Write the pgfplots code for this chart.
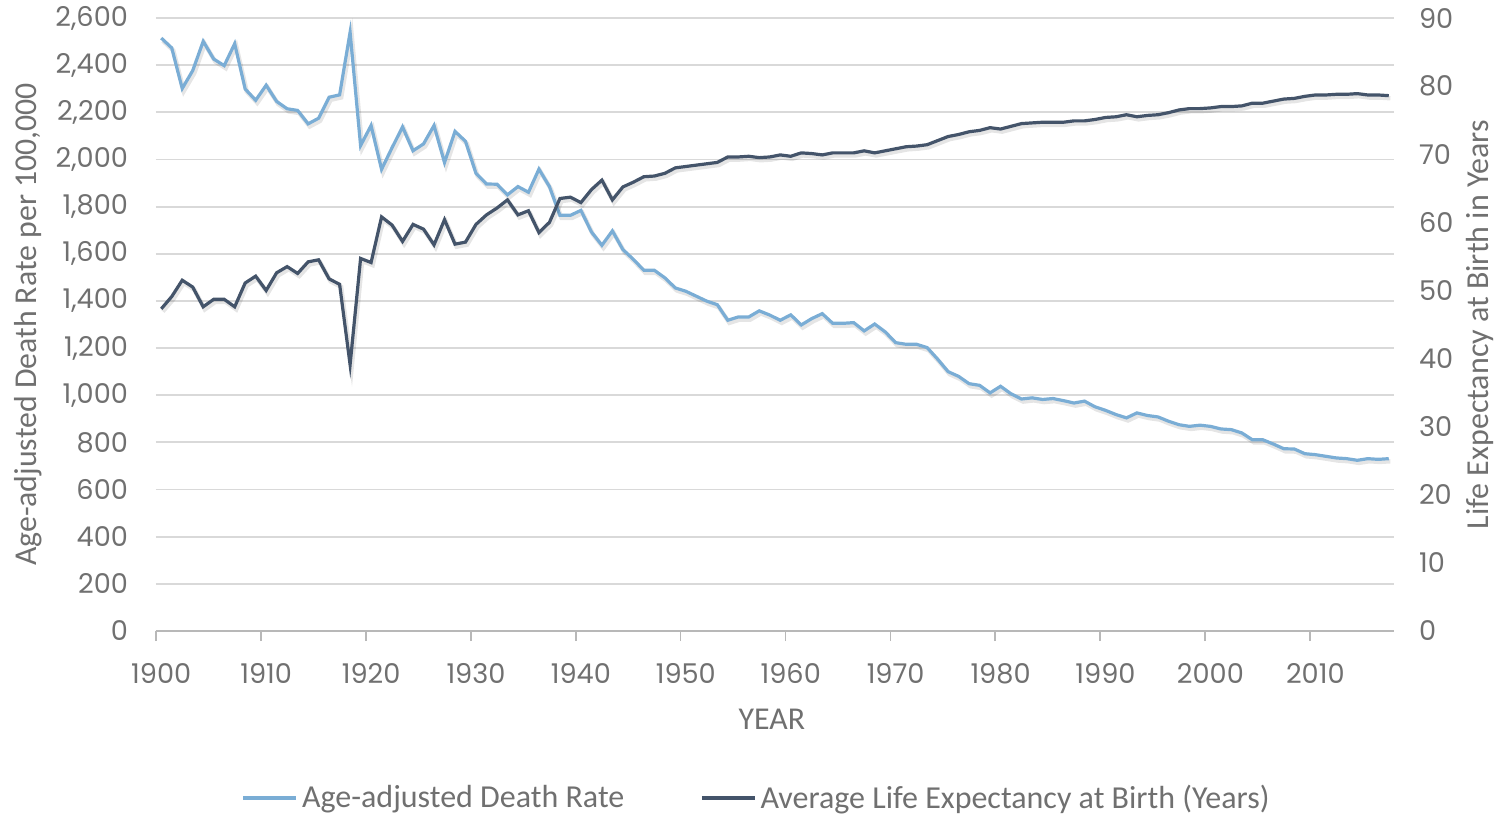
\documentclass[border=0pt]{standalone}
\usepackage{pgfplots}
\pgfplotsset{compat=1.18}
\usepackage{pgfplotstable}
\usepackage{fontspec}
\setmainfont{Carlito}
\newfontfamily\tickfont{Poppins}
\definecolor{deathblue}{RGB}{122,173,213}
\definecolor{lifedark}{RGB}{68,84,106}
\definecolor{txtgray}{RGB}{112,112,112}
\definecolor{gridgray}{RGB}{217,217,217}

\pgfplotstableread{
year rate
1900 2515
1901 2473
1902 2301
1903 2377
1904 2501
1905 2426
1906 2398
1907 2491
1908 2299
1909 2251
1910 2315
1911 2246
1912 2215
1913 2208
1914 2151
1915 2175
1916 2264
1917 2274
1918 2539
1919 2059
1920 2144
1921 1958
1922 2050
1923 2138
1924 2037
1925 2066
1926 2144
1927 1987
1928 2119
1929 2077
1930 1941
1931 1896
1932 1895
1933 1850
1934 1885
1935 1861
1936 1959
1937 1885
1938 1763
1939 1763
1940 1784
1941 1693
1942 1636
1943 1697
1944 1618
1945 1576
1946 1530
1947 1530
1948 1498
1949 1455
1950 1441
1951 1420
1952 1399
1953 1384
1954 1318
1955 1332
1956 1332
1957 1358
1958 1340
1959 1318
1960 1341
1961 1298
1962 1325
1963 1346
1964 1305
1965 1305
1966 1308
1967 1273
1968 1302
1969 1269
1970 1223
1971 1216
1972 1216
1973 1202
1974 1153
1975 1100
1976 1080
1977 1049
1978 1042
1979 1010
1980 1038
1981 1006
1982 984
1983 989
1984 982
1985 986
1986 977
1987 967
1988 975
1989 951
1990 936
1991 918
1992 904
1993 925
1994 914
1995 908
1996 890
1997 875
1998 868
1999 873
2000 868
2001 857
2002 854
2003 840
2004 811
2005 811
2006 793
2007 773
2008 772
2009 752
2010 748
2011 741
2012 734
2013 731
2014 724
2015 731
2016 728
2017 731
}\deathrate

\pgfplotstableread{
year life
1900 47.3
1901 49.1
1902 51.5
1903 50.5
1904 47.6
1905 48.7
1906 48.7
1907 47.6
1908 51.1
1909 52.1
1910 50.0
1911 52.6
1912 53.5
1913 52.5
1914 54.2
1915 54.5
1916 51.7
1917 50.9
1918 39.1
1919 54.7
1920 54.1
1921 60.8
1922 59.6
1923 57.2
1924 59.7
1925 59.0
1926 56.7
1927 60.4
1928 56.8
1929 57.1
1930 59.7
1931 61.1
1932 62.1
1933 63.3
1934 61.1
1935 61.7
1936 58.5
1937 60.0
1938 63.5
1939 63.7
1940 62.9
1941 64.8
1942 66.2
1943 63.3
1944 65.2
1945 65.9
1946 66.7
1947 66.8
1948 67.2
1949 68.0
1950 68.2
1951 68.4
1952 68.6
1953 68.8
1954 69.6
1955 69.6
1956 69.7
1957 69.5
1958 69.6
1959 69.9
1960 69.7
1961 70.2
1962 70.1
1963 69.9
1964 70.2
1965 70.2
1966 70.2
1967 70.5
1968 70.2
1969 70.5
1970 70.8
1971 71.1
1972 71.2
1973 71.4
1974 72.0
1975 72.6
1976 72.9
1977 73.3
1978 73.5
1979 73.9
1980 73.7
1981 74.1
1982 74.5
1983 74.6
1984 74.7
1985 74.7
1986 74.7
1987 74.9
1988 74.9
1989 75.1
1990 75.4
1991 75.5
1992 75.8
1993 75.5
1994 75.7
1995 75.8
1996 76.1
1997 76.5
1998 76.7
1999 76.7
2000 76.8
2001 77.0
2002 77.0
2003 77.1
2004 77.5
2005 77.5
2006 77.8
2007 78.1
2008 78.2
2009 78.5
2010 78.7
2011 78.7
2012 78.8
2013 78.8
2014 78.9
2015 78.7
2016 78.7
2017 78.6
}\lifeexp

\begin{document}
\begin{tikzpicture}
\begin{axis}[
  scale only axis,
  width=619pt, height=306.5pt,
  xmin=1899.5, xmax=2017.5,
  ymin=0, ymax=2600,
  axis x line*=bottom, axis y line*=left,
  y axis line style={draw=none},
  x axis line style={draw=gridgray!85!black, line width=0.9pt},
  xtick={1899.5,1909.5,1919.5,1929.5,1939.5,1949.5,1959.5,1969.5,1979.5,1989.5,1999.5,2009.5},
  xticklabels={{},{},{},{},{},{},{},{},{},{},{},{}},
  x tick style={draw=gridgray!85!black, line width=0.9pt},
  major tick length=5pt, tick align=outside,
  extra x ticks={1900,1910,1920,1930,1940,1950,1960,1970,1980,1990,2000,2010},
  extra x tick labels={1900,1910,1920,1930,1940,1950,1960,1970,1980,1990,2000,2010},
  extra x tick style={major tick length=0pt, grid=none},
  ytick={0,200,...,2600},
  y tick style={draw=none},
  ymajorgrids,
  grid style={draw=gridgray, line width=0.9pt},
  /pgf/number format/assume math mode=true,
  /pgf/number format/1000 sep={,},
  tick label style={font=\tickfont\fontsize{13.6}{15}\selectfont, text=txtgray},
  xticklabel style={yshift=-12.5pt},
  yticklabel style={xshift=-5.5pt},
  every axis y label/.style={at={(axis description cs:-0.1034,0.5)}, rotate=90, anchor=center},
  ylabel={Age-adjusted Death Rate per 100,000},
  every axis x label/.style={at={(axis description cs:0.4975,-0.1436)}, anchor=center},
  xlabel={YEAR},
  label style={font=\fontsize{15.9}{18}\selectfont, text=txtgray},
]
\addplot[black, opacity=0.10, line width=2.2pt, xshift=0.8pt, yshift=-1.3pt, forget plot] table[x=year,y=rate]{\deathrate};
\addplot[deathblue, line width=1.6pt] table[x=year,y=rate]{\deathrate};
\end{axis}
\begin{axis}[
  scale only axis,
  width=619pt, height=306.5pt,
  xmin=1899.5, xmax=2017.5,
  ymin=0, ymax=90,
  axis x line=none, axis y line*=right,
  y axis line style={draw=none},
  ytick={0,10,...,90},
  y tick style={draw=none},
  /pgf/number format/assume math mode=true,
  tick label style={font=\tickfont\fontsize{13.6}{15}\selectfont, text=txtgray},
  yticklabel style={xshift=9pt},
  every axis y label/.style={at={(axis description cs:1.0695,0.5)}, rotate=90, anchor=center},
  ylabel={Life Expectancy at Birth in Years},
  label style={font=\fontsize{16}{18}\selectfont, text=txtgray},
  legend columns=2,
  legend style={at={(axis description cs:0.486,-0.2724)}, anchor=center, draw=none, fill=none,
    font=\fontsize{16}{18}\selectfont, text=txtgray,
    /tikz/every even column/.append style={column sep=36pt},
    inner sep=0pt},
  legend cell align=left,
  legend image code/.code={\draw[#1] (0pt,0pt) -- (26.5pt,0pt);},
]
\addlegendimage{deathblue, line width=1.6pt}
\addlegendentry{Age-adjusted Death Rate}
\addplot[black, opacity=0.10, line width=2.2pt, xshift=0.8pt, yshift=-1.3pt, forget plot] table[x=year,y=life]{\lifeexp};
\addplot[lifedark, line width=1.6pt] table[x=year,y=life]{\lifeexp};
\addlegendentry{Average Life Expectancy at Birth (Years)}
\end{axis}
\pgfresetboundingbox
\path[use as bounding box] (-78pt,-92pt) rectangle (673.5pt,315.5pt);
\end{tikzpicture}
\end{document}
